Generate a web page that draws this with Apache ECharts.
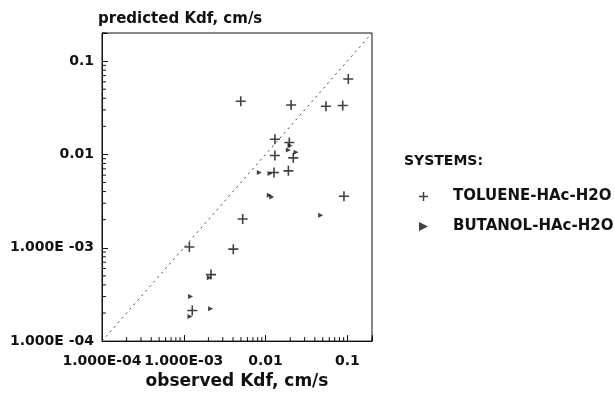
<!DOCTYPE html>
<html>
<head>
<meta charset="utf-8">
<script src="https://cdn.jsdelivr.net/npm/echarts@6/dist/echarts.min.js"></script>
<style>html,body{margin:0;padding:0;background:#fff;}#c{width:615px;height:395px;}</style>
</head>
<body>
<div id="c"></div>
<script>
// ---- data (observed Kdf, predicted Kdf), cm/s ----
const tolueneObs  = [0.00497, 0.0205, 0.0547, 0.0877, 0.1026, 0.0130, 0.0195, 0.0130, 0.0218, 0.01268, 0.0190, 0.0908, 0.00403, 0.00525, 0.00117, 0.00215, 0.00127];
const toluenePred = [0.0372, 0.0338, 0.0328, 0.0335, 0.0644, 0.01455, 0.01343, 0.00973, 0.00919, 0.0064, 0.00667, 0.00356, 0.000967, 0.00203, 0.00102, 0.000516, 0.000213];
const butanolObs  = [0.0199, 0.0190, 0.0236, 0.00838, 0.01132, 0.0111, 0.0119, 0.0472, 0.00205, 0.00121, 0.00119, 0.00213];
const butanolPred = [0.01248, 0.01115, 0.01055, 0.0064, 0.00625, 0.00365, 0.0035, 0.00223, 0.000477, 0.000301, 0.000184, 0.000222];
const seriesNames = ['TOLUENE-HAc-H2O', 'BUTANOL-HAc-H2O'];
const axisMin = 1e-4, axisMax = 0.2;
const xTickExps = [-4, -3, -2, -1];
const xTickLabels = ['1.000E-04', '1.000E-03', '0.01', '0.1'];
const yTickLabels = ['1.000E -04', '1.000E -03', '0.01', '0.1'];
const parityLine = [[1e-4, 1e-4], [0.2, 0.2]];

const FONT = 'DejaVu Sans';
const INK = '#111';
const zip = (a, b) => a.map((v, i) => [v, b[i]]);

// minor tick positions (2..9 in each decade)
const minorVals = [];
for (const e of xTickExps) for (let m = 2; m <= 9; m++) { const v = m * Math.pow(10, e); if (v <= axisMax) minorVals.push(v); }

function tickFmt(labels) {
  return function (v) {
    const e = Math.log10(v);
    const r = Math.round(e);
    if (Math.abs(e - r) > 1e-6) return '';
    const i = xTickExps.indexOf(r);
    return i >= 0 ? labels[i] : '';
  };
}

const plusPath = 'path://M4.2,0H5.8V10H4.2ZM0,4.2H10V5.8H0Z';
const triPath = 'path://M0,0L10,5L0,10Z';

function tickItem(dx, dy) {
  return function (params, api) {
    const p = api.coord([api.value(0), api.value(1)]);
    return {type: 'line', shape: {x1: p[0], y1: p[1], x2: p[0] + dx, y2: p[1] + dy}, style: {stroke: INK, lineWidth: 1}};
  };
}

const chart = echarts.init(document.getElementById('c'), null, {renderer: 'canvas'});
chart.setOption({
  backgroundColor: '#fff',
  animation: false,
  textStyle: {fontFamily: FONT, color: INK},
  grid: {left: 102, right: 243, top: 33, bottom: 47, show: true, borderColor: INK, borderWidth: 1, backgroundColor: 'transparent'},
  title: {text: 'SYSTEMS:', left: 404, top: 154, textStyle: {fontFamily: FONT, fontSize: 14, fontWeight: 'bold', color: INK}, padding: 0},
  legend: {
    orient: 'vertical', left: 414, top: 184, itemGap: 15, itemWidth: 9, itemHeight: 9,
    textStyle: {fontFamily: FONT, fontSize: 15, fontWeight: 'bold', color: INK, padding: [0, 0, 0, 20]},
    data: [{name: seriesNames[0], icon: plusPath}, {name: seriesNames[1], icon: triPath}],
    selectedMode: false
  },
  xAxis: {
    type: 'log', logBase: 10, min: axisMin, max: axisMax,
    name: 'observed Kdf, cm/s', nameLocation: 'middle', nameGap: 23,
    nameTextStyle: {fontFamily: FONT, fontSize: 17, fontWeight: 'bold', color: INK},
    axisLine: {lineStyle: {color: INK, width: 1}},
    axisTick: {inside: true, length: 6, lineStyle: {color: INK, width: 1}},
    axisLabel: {formatter: tickFmt(xTickLabels), margin: 13, showMinLabel: true, showMaxLabel: true, hideOverlap: false,
      fontFamily: FONT, fontSize: 14, fontWeight: 'bold', color: INK},
    splitLine: {show: false}
  },
  yAxis: {
    type: 'log', logBase: 10, min: axisMin, max: axisMax,
    name: 'predicted Kdf, cm/s', nameLocation: 'end', nameGap: 6,
    nameTextStyle: {fontFamily: FONT, fontSize: 15, fontWeight: 'bold', color: INK, align: 'left', padding: [0, 0, 0, -4]},
    axisLine: {lineStyle: {color: INK, width: 1}},
    axisTick: {inside: true, length: 6, lineStyle: {color: INK, width: 1}},
    axisLabel: {formatter: tickFmt(yTickLabels), margin: 8, showMinLabel: true, showMaxLabel: true,
      fontFamily: FONT, fontSize: 14, fontWeight: 'bold', color: INK},
    splitLine: {show: false}
  },
  series: [
    {
      type: 'line', data: parityLine, symbol: 'none', silent: true,
      lineStyle: {color: '#444', width: 1, type: [2, 4]}, z: 1
    },
    {
      type: 'custom', silent: true, z: 3, clip: false,
      data: minorVals.map(v => [v, axisMin]),
      renderItem: tickItem(0, -4)
    },
    {
      type: 'custom', silent: true, z: 3, clip: false,
      data: minorVals.map(v => [axisMin, v]),
      renderItem: tickItem(4, 0)
    },
    {
      name: seriesNames[0], type: 'scatter', data: zip(tolueneObs, toluenePred),
      symbol: plusPath, symbolSize: 10, itemStyle: {color: INK}, z: 5
    },
    {
      name: seriesNames[1], type: 'scatter', data: zip(butanolObs, butanolPred),
      symbol: triPath, symbolSize: 5, itemStyle: {color: INK}, z: 5
    }
  ]
});
</script>
</body>
</html>
